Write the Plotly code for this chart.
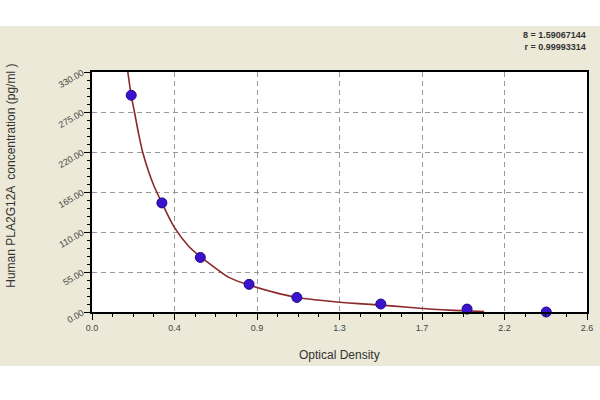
import plotly.graph_objects as go

# measured standards (optical density vs concentration)
od = [0.206, 0.367, 0.569, 0.825, 1.076, 1.517, 1.970, 2.386]
conc = [298, 150, 75, 38, 20, 11, 4, 0]

# fitted curve
curve_od = [0.185, 0.206, 0.223, 0.245, 0.266, 0.295, 0.323, 0.367, 0.431, 0.509,
            0.569, 0.650, 0.716, 0.825, 0.958, 1.076, 1.183, 1.30, 1.40, 1.517,
            1.66, 1.77, 1.90, 2.06]
curve_conc = [336, 298, 275, 245, 220, 195, 175, 150, 117, 90,
              76, 60, 48, 37, 27, 20, 16.5, 13.5, 11.5, 9.5,
              6.5, 4.2, 2.3, 0.5]

x_tickvals = [0, 2.6 / 6, 2 * 2.6 / 6, 3 * 2.6 / 6, 4 * 2.6 / 6, 5 * 2.6 / 6, 2.6]
x_ticktext = ["0.0", "0.4", "0.9", "1.3", "1.7", "2.2", "2.6"]
y_tickvals = [0, 55, 110, 165, 220, 275, 330]
y_ticktext = ["0.00", "55.00", "110.00", "165.00", "220.00", "275.00", "330.00"]

stats_text = "<b>8 = 1.59067144</b><br><b>r = 0.99993314</b>"
x_title = "Optical Density"
y_title = "Human PLA2G12A  concentration (pg/ml )"

fig = go.Figure()
fig.add_trace(go.Scatter(x=curve_od, y=curve_conc, mode="lines",
                         line=dict(color="#8a2a2a", width=1.6, shape="spline", smoothing=0.8),
                         hoverinfo="skip", showlegend=False))
fig.add_trace(go.Scatter(x=od, y=conc, mode="markers",
                         marker=dict(color="#3a14cc", size=10, symbol="circle",
                                     line=dict(color="#24088c", width=1)),
                         cliponaxis=False, showlegend=False))

font = "Liberation Sans, Arial, sans-serif"
fig.update_layout(
    width=600, height=400,
    margin=dict(l=92, r=7, t=72, b=88),
    paper_bgcolor="white",
    plot_bgcolor="white",
    font=dict(family=font, color="#333333"),
    shapes=[
        dict(type="rect", xref="paper", yref="paper", x0=-0.19, x1=1.03,
             y0=-0.225, y1=1.192, fillcolor="#ece9d8", line=dict(width=0), layer="below"),
        dict(type="rect", xref="paper", yref="paper", x0=0, x1=1, y0=0, y1=1,
             fillcolor="white", line=dict(width=0), layer="below"),
    ],
    xaxis=dict(range=[0, 2.6], tickmode="array", tickvals=x_tickvals, ticktext=x_ticktext,
               showline=True, linecolor="black", linewidth=1.5, mirror=True,
               ticks="outside", ticklen=6, tickcolor="black",
               minor=dict(tick0=0, dtick=2.6 / 24, ticks="outside", ticklen=3,
                          tickcolor="black", showgrid=False),
               showgrid=True, gridcolor="#9a9a9a", griddash="5px,4px", gridwidth=1,
               zeroline=False,
               tickfont=dict(size=9, color="#444444", family=font)),
    yaxis=dict(range=[0, 330], tickmode="array", tickvals=y_tickvals, ticktext=y_ticktext,
               showline=True, linecolor="black", linewidth=1.5, mirror=True,
               ticks="outside", ticklen=6, tickcolor="black",
               minor=dict(tick0=0, dtick=11, ticks="outside", ticklen=3,
                          tickcolor="black", showgrid=False),
               showgrid=True, gridcolor="#9a9a9a", griddash="5px,4px", gridwidth=1,
               zeroline=False, tickangle=-30,
               tickfont=dict(size=9, color="#444444", family=font)),
    annotations=[
        dict(text=stats_text, xref="paper", yref="paper", x=1.002, y=1.129,
             xanchor="right", yanchor="middle", showarrow=False, align="right",
             font=dict(size=9, color="#333333", family=font)),
        dict(text=x_title, xref="paper", yref="paper", x=0.499, y=-0.179,
             xanchor="center", yanchor="middle", showarrow=False,
             font=dict(size=12, color="#333333", family=font)),
        dict(text=y_title, xref="paper", yref="paper", x=-0.164, y=0.567,
             xanchor="center", yanchor="middle", showarrow=False, textangle=-90,
             font=dict(size=12, color="#333333", family=font)),
    ],
)

fig.write_html("out.html", config={"displayModeBar": False},
               post_script="document.body.style.margin='0';")
